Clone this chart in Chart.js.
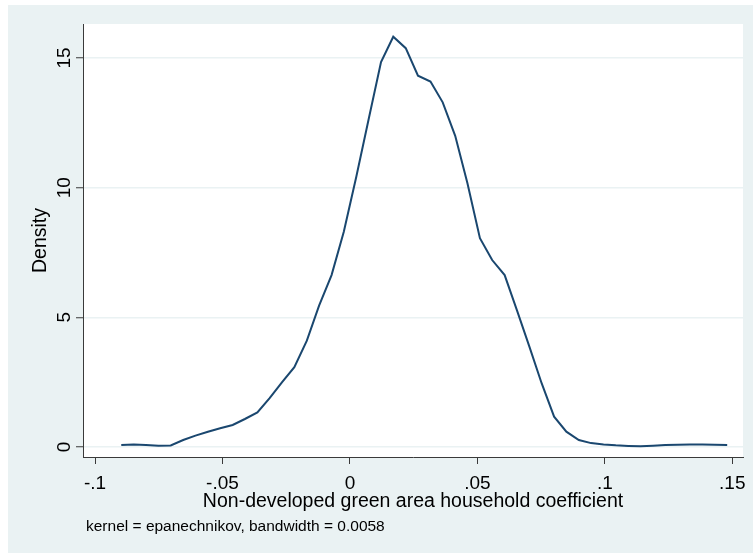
<!DOCTYPE html>
<html>
<head>
<meta charset="utf-8">
<script src="https://cdn.jsdelivr.net/npm/chart.js@4/dist/chart.umd.min.js"></script>
<style>
  html, body { margin: 0; padding: 0; background: #fff; }
  canvas { display: block; }
</style>
</head>
<body>
<canvas id="c" width="753" height="554"></canvas>
<script>
// Kernel density estimate: evaluation grid and estimated density
const gridX = [
  -0.0897, -0.0848, -0.0800, -0.0751, -0.0703, -0.0654, -0.0606, -0.0557, -0.0509, -0.0460,
  -0.0412, -0.0363, -0.0315, -0.0266, -0.0218, -0.0169, -0.0121, -0.0072, -0.0024, 0.0025,
  0.0073, 0.0122, 0.0170, 0.0219, 0.0267, 0.0316, 0.0364, 0.0413, 0.0461, 0.0510,
  0.0558, 0.0607, 0.0655, 0.0704, 0.0752, 0.0801, 0.0849, 0.0898, 0.0946, 0.0995,
  0.1043, 0.1092, 0.1140, 0.1189, 0.1237, 0.1286, 0.1334, 0.1383, 0.1431, 0.1480
];
const density = [
  0.08, 0.10, 0.08, 0.05, 0.06, 0.27, 0.44, 0.59, 0.72, 0.85,
  1.08, 1.33, 1.88, 2.50, 3.08, 4.10, 5.45, 6.63, 8.30, 10.42,
  12.62, 14.84, 15.82, 15.38, 14.32, 14.09, 13.29, 12.00, 10.17, 8.05,
  7.21, 6.63, 5.28, 3.87, 2.46, 1.17, 0.59, 0.27, 0.15, 0.10,
  0.065, 0.04, 0.025, 0.05, 0.075, 0.09, 0.10, 0.095, 0.085, 0.075
];

const xTicks = [-0.1, -0.05, 0, 0.05, 0.1, 0.15];
const xTickLabels = ['-.1', '-.05', '0', '.05', '.1', '.15'];
const yTicks = [0, 5, 10, 15];
const yTickLabels = ['0', '5', '10', '15'];

const xTitle = 'Non-developed green area household coefficient';
const yTitle = 'Density';
const noteText = 'kernel = epanechnikov, bandwidth = 0.0058';

const FONT = '"Liberation Sans", Arial, sans-serif';
const BG = '#eaf2f3';
const INK = '#000000';
const AXIS = '#3a3a3a';
const LINE = '#1a476f';

// Graph region background, white plot region, and all text
const frame = {
  id: 'frame',
  beforeDraw(chart) {
    const { ctx, width, height, chartArea: a } = chart;
    ctx.save();
    ctx.fillStyle = '#ffffff';
    ctx.fillRect(0, 0, width, height);
    ctx.fillStyle = BG;
    ctx.fillRect(8, 5, width - 8, height - 6);
    ctx.fillStyle = '#ffffff';
    ctx.fillRect(a.left, a.top, a.right - a.left, a.bottom - a.top);
    ctx.restore();
  },
  afterDraw(chart) {
    const { ctx, chartArea: a, scales: { x, y } } = chart;
    ctx.save();
    ctx.fillStyle = INK;
    ctx.textBaseline = 'alphabetic';

    // x tick labels
    ctx.font = '19px ' + FONT;
    ctx.textAlign = 'center';
    xTicks.forEach((v, i) => ctx.fillText(xTickLabels[i], x.getPixelForValue(v), 489));

    // y tick labels, rotated
    yTicks.forEach((v, i) => {
      ctx.save();
      ctx.translate(70, y.getPixelForValue(v));
      ctx.rotate(-Math.PI / 2);
      ctx.fillText(yTickLabels[i], 0, 0);
      ctx.restore();
    });

    // axis titles
    ctx.font = '19.5px ' + FONT;
    ctx.fillText(xTitle, (a.left + a.right) / 2, 507);
    ctx.save();
    ctx.translate(46, (a.top + a.bottom) / 2);
    ctx.rotate(-Math.PI / 2);
    ctx.fillText(yTitle, 0, 0);
    ctx.restore();

    // note
    ctx.font = '15.5px ' + FONT;
    ctx.textAlign = 'left';
    ctx.fillText(noteText, 86, 531);
    ctx.restore();
  }
};

new Chart(document.getElementById('c'), {
  type: 'scatter',
  data: {
    datasets: [{
      data: gridX.map((v, i) => ({ x: v, y: density[i] })),
      showLine: true,
      borderColor: LINE,
      borderWidth: 2,
      pointRadius: 0,
      tension: 0,
      fill: false
    }]
  },
  options: {
    responsive: false,
    animation: false,
    devicePixelRatio: 1,
    events: [],
    layout: { padding: { top: 24, right: 10, left: 0, bottom: 0 } },
    plugins: { legend: { display: false }, tooltip: { enabled: false } },
    scales: {
      x: {
        type: 'linear',
        min: -0.10471,
        max: 0.15420,
        afterBuildTicks: s => { s.ticks = xTicks.map(v => ({ value: v })); },
        afterFit: s => { s.height = 97; },
        ticks: { display: false },
        grid: { drawOnChartArea: false, drawTicks: true, tickLength: 7, tickColor: AXIS, tickWidth: 1 },
        border: { display: true, color: AXIS, width: 1 }
      },
      y: {
        type: 'linear',
        min: -0.386,
        max: 16.311,
        afterBuildTicks: s => { s.ticks = yTicks.map(v => ({ value: v })); },
        afterFit: s => { s.width = 83; },
        ticks: { display: false },
        grid: { color: BG, lineWidth: 1.5, drawTicks: true, tickLength: 7, tickColor: AXIS, tickWidth: 1 },
        border: { display: true, color: AXIS, width: 1 }
      }
    }
  },
  plugins: [frame]
});
</script>
</body>
</html>
